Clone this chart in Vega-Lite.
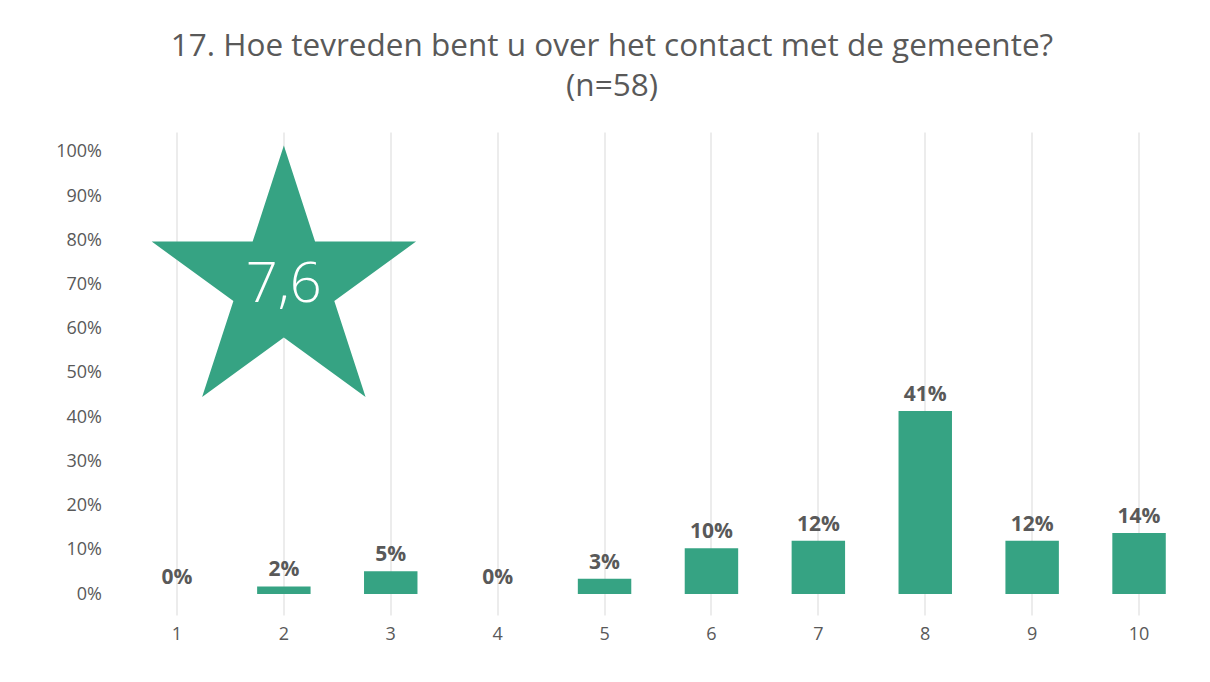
{
  "$schema": "https://vega.github.io/schema/vega-lite/v6.json",
  "width": 1069,
  "height": 483,
  "autosize": {"type": "none"},
  "padding": {"left": 123.5, "top": 132, "right": 17.5, "bottom": 67},
  "background": "white",
  "config": {"view": {"stroke": null}},
  "title": {
    "text": ["17. Hoe tevreden bent u over het contact met de gemeente?", "(n=58)"],
    "font": "Open Sans",
    "fontSize": 31.5,
    "fontWeight": "normal",
    "color": "#595959",
    "lineHeight": 40,
    "anchor": "middle",
    "dx": -46,
    "offset": 30
  },
  "data": {
    "values": [
      {"score": 1, "pct": 0},
      {"score": 2, "pct": 0.0172},
      {"score": 3, "pct": 0.0517},
      {"score": 4, "pct": 0},
      {"score": 5, "pct": 0.0345},
      {"score": 6, "pct": 0.1034},
      {"score": 7, "pct": 0.1207},
      {"score": 8, "pct": 0.4138},
      {"score": 9, "pct": 0.1207},
      {"score": 10, "pct": 0.1379}
    ]
  },
  "encoding": {
    "x": {
      "field": "score",
      "type": "ordinal",
      "scale": {"paddingInner": 0.5, "paddingOuter": 0.25},
      "axis": {
        "title": null,
        "labelAngle": 0,
        "domain": false,
        "ticks": false,
        "grid": true,
        "gridColor": "#d9d9d9",
        "gridWidth": 1,
        "labelFont": "Open Sans",
        "labelFontSize": 18,
        "labelColor": "#595959",
        "labelPadding": 10
      }
    },
    "y": {
      "field": "pct",
      "type": "quantitative",
      "scale": {"domain": [-0.0475, 1.045], "nice": false, "zero": false},
      "axis": {
        "title": null,
        "values": [0, 0.1, 0.2, 0.3, 0.4, 0.5, 0.6, 0.7, 0.8, 0.9, 1],
        "format": ".0%",
        "domain": false,
        "ticks": false,
        "tickSize": 0,
        "grid": false,
        "labelFont": "Open Sans",
        "labelFontSize": 18,
        "labelColor": "#595959",
        "labelPadding": 22
      }
    }
  },
  "layer": [
    {
      "mark": {"type": "bar", "color": "#36a383"},
      "encoding": {"y2": {"datum": 0}}
    },
    {
      "mark": {
        "type": "text",
        "baseline": "alphabetic",
        "dy": -10,
        "font": "Open Sans",
        "fontSize": 21,
        "fontWeight": "bold",
        "color": "#595959"
      },
      "encoding": {"text": {"field": "pct", "type": "quantitative", "format": ".0%"}}
    },
    {
      "data": {"values": [{"score": 2, "pct": 0.70, "gem": "7,6"}]},
      "mark": {
        "type": "point",
        "shape": "M0,-1L0.2245,-0.309L0.951,-0.309L0.363,0.118L0.588,0.809L0,0.382L-0.588,0.809L-0.363,0.118L-0.951,-0.309L-0.2245,-0.309Z",
        "size": 77284,
        "filled": true,
        "color": "#36a383",
        "opacity": 1,
        "strokeWidth": 0
      }
    },
    {
      "data": {"values": [{"score": 2, "pct": 0.70, "gem": "7,6"}]},
      "mark": {
        "type": "text",
        "baseline": "middle",
        "align": "center",
        "font": "Open Sans",
        "fontSize": 56,
        "fontWeight": 300,
        "color": "white"
      },
      "encoding": {"text": {"field": "gem"}}
    }
  ]
}
